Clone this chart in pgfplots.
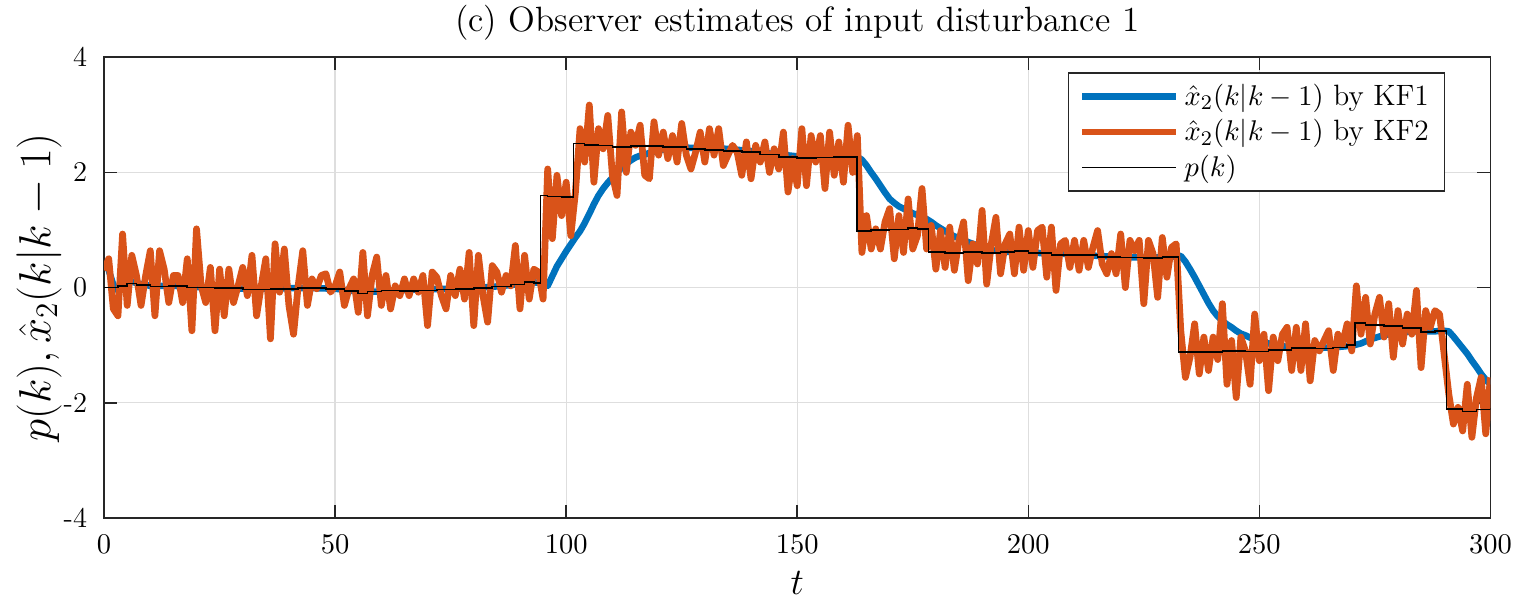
\documentclass[border=0pt]{standalone}
\usepackage{pgfplots}
\pgfplotsset{compat=1.18}

\definecolor{kfblue}{rgb}{0,0.447,0.741}
\definecolor{kforange}{rgb}{0.85,0.325,0.098}
\definecolor{axgray}{rgb}{0.15,0.15,0.15}

\pgfplotsset{
  legend image code/.code={\draw[#1] (0pt,0pt) -- (36pt,0pt);},
  every axis title/.style={at={(axis description cs:0.5,1.057)}, anchor=base,
    font=\fontsize{13.5}{15}\selectfont},
}

\begin{document}
\begin{tikzpicture}
\useasboundingbox (-40pt,-31.5pt) rectangle (543.7pt,199pt);
\begin{axis}[
  at={(0,0)}, anchor=south west, scale only axis,
  width=532.7pt, height=177pt,
  xmin=0, xmax=300, ymin=-4, ymax=4,
  xtick={0,50,...,300},
  ytick={-4,-2,0,2,4}, yticklabels={-4,-2,0,2,4},
  tick align=inside, major tick length=5pt,
  grid=major, grid style={black!13, line width=0.5pt},
  axis line style={axgray, line width=0.6pt},
  tick style={axgray, line width=0.6pt},
  ticklabel style={font=\fontsize{11}{13}\selectfont},
  xticklabel style={yshift=-3pt},
  yticklabel style={xshift=-3pt},
  title={(c) Observer estimates of input disturbance 1},
  xlabel={$t$},
  xlabel style={font=\fontsize{14}{16}\selectfont, at={(axis description cs:0.5,-0.142)}, anchor=center},
  ylabel={$p(k), \hat{x}_2(k|k-1)$},
  ylabel style={font=\fontsize{16.5}{18}\selectfont, at={(axis description cs:-0.0469,0.5)}, anchor=center},
  legend style={at={(0.9675,0.967)}, anchor=north east, draw=axgray, line width=0.6pt,
    font=\fontsize{11.3}{13}\selectfont, cells={anchor=west}, row sep=0pt,
    inner xsep=4pt, inner ysep=2pt},
]

% KF1 estimate (smooth)
\addplot[kfblue, line width=2.5pt, line join=round] coordinates {
(0,0.45)(1,0.30)(2,0.05)(3,-0.05)(4,0.02)(5,0.08)(6,0.10)(8,0.06)(10,0.03)(15,0.03)
(20,0.01)(25,0.00)(30,-0.02)(35,-0.02)(40,-0.01)(45,-0.01)(50,-0.02)(53,-0.05)(56,-0.08)(59,-0.07)
(62,-0.05)(66,-0.04)(70,-0.03)(75,-0.02)(80,-0.01)(85,0.02)(90,0.06)(93,0.09)(95,0.08)
(96,0.03)(97,0.20)(98,0.37)(99,0.50)(100,0.63)(101,0.75)(102,0.87)(103,0.98)(104,1.12)(105,1.28)
(106,1.45)(107,1.60)(108,1.72)(109,1.82)(110,1.91)(111,2.00)(112,2.08)(113,2.15)(114,2.21)(115,2.26)
(116,2.29)(117,2.31)(118,2.34)(120,2.38)(123,2.42)(126,2.43)(130,2.42)(135,2.41)(140,2.37)(145,2.32)
(150,2.28)(155,2.26)(160,2.27)(163,2.27)(164,2.22)(165,2.12)(166,2.00)(167,1.89)(168,1.77)(169,1.65)
(170,1.54)(171,1.47)(172,1.41)(173,1.37)(174,1.33)(175,1.29)(176,1.26)(177,1.23)(178,1.19)(179,1.14)
(180,1.08)(181,1.03)(182,0.98)(183,0.93)(184,0.89)(185,0.86)(186,0.82)(187,0.79)(188,0.76)(190,0.70)
(192,0.65)(195,0.62)(200,0.61)(205,0.59)(210,0.58)(215,0.55)(220,0.53)(225,0.52)(230,0.53)(233,0.55)
(234,0.45)(235,0.32)(236,0.18)(237,0.03)(238,-0.12)(239,-0.27)(240,-0.40)(241,-0.50)(242,-0.58)(243,-0.64)
(244,-0.69)(245,-0.75)(246,-0.80)(247,-0.83)(248,-0.87)(250,-0.92)(252,-0.97)(255,-1.02)(258,-1.04)(262,-1.05)
(266,-1.04)(270,-1.01)(272,-0.97)(274,-0.90)(276,-0.85)(278,-0.81)(280,-0.78)(284,-0.76)(288,-0.76)(290,-0.75)
(291,-0.76)(292,-0.85)(293,-0.95)(294,-1.05)(295,-1.15)(296,-1.27)(297,-1.38)(298,-1.50)(299,-1.60)(300,-1.68)
};
\addlegendentry{$\hat{x}_2(k|k-1)$ by KF1}

% KF2 estimate (fast, noisy)
\addplot[kforange, line width=2.6pt, line join=round] coordinates {
(0,0.30)(1,0.50)(2,-0.37)(3,-0.49)(4,0.93)(5,-0.31)(6,0.56)(7,0.21)(8,-0.31)(9,0.21)
(10,0.64)(11,-0.49)(12,0.64)(13,0.32)(14,-0.26)(15,0.21)(16,0.21)(17,-0.26)(18,0.50)(19,-0.75)
(20,1.02)(21,0.03)(22,-0.26)(23,0.35)(24,-0.75)(25,0.32)(26,-0.49)(27,0.32)(28,-0.26)(29,0.03)
(30,0.35)(31,-0.14)(32,0.56)(33,-0.49)(34,0.03)(35,0.50)(36,-0.89)(37,0.76)(38,-0.08)(39,0.67)
(40,-0.31)(41,-0.81)(42,0.03)(43,0.64)(44,-0.31)(45,0.15)(46,-0.02)(47,0.21)(48,0.24)(49,-0.08)
(50,0.03)(51,0.27)(52,-0.31)(53,-0.02)(54,0.15)(55,-0.43)(56,0.61)(57,-0.49)(58,0.21)(59,0.53)
(60,-0.31)(61,0.21)(62,-0.37)(63,0.03)(64,-0.14)(65,0.15)(66,-0.14)(67,0.15)(68,-0.08)(69,0.21)
(70,-0.66)(71,0.27)(72,0.18)(73,-0.14)(74,-0.37)(75,0.21)(76,-0.14)(77,0.32)(78,-0.20)(79,0.61)
(80,-0.66)(81,0.56)(82,-0.14)(83,-0.60)(84,0.38)(85,0.27)(86,-0.08)(87,0.21)(88,0.03)(89,0.73)
(90,-0.37)(91,0.56)(92,-0.20)(93,0.32)(94,0.27)(95,-0.20)(96,2.06)(97,0.85)(98,1.95)(99,1.25)
(100,1.83)(101,0.90)(102,1.66)(103,2.76)(104,2.18)(105,3.17)(106,1.83)(107,2.76)(108,2.41)(109,2.99)
(110,1.95)(111,1.60)(112,3.05)(113,2.00)(114,2.70)(115,2.47)(116,2.82)(117,1.95)(118,1.89)(119,2.88)
(120,2.30)(121,2.70)(122,2.24)(123,2.64)(124,2.18)(125,2.85)(126,2.30)(127,2.06)(128,2.35)(129,2.70)
(130,2.18)(131,2.76)(132,2.30)(133,2.76)(134,2.12)(135,2.30)(136,2.47)(137,2.35)(138,1.95)(139,2.53)
(140,1.89)(141,2.47)(142,2.18)(143,2.53)(144,2.00)(145,2.41)(146,2.06)(147,2.70)(148,1.66)(149,2.24)
(150,1.77)(151,2.76)(152,1.77)(153,2.64)(154,2.18)(155,2.64)(156,1.72)(157,2.70)(158,1.95)(159,2.53)
(160,1.83)(161,2.82)(162,2.00)(163,2.64)(164,0.61)(165,1.25)(166,0.67)(167,1.02)(168,0.67)(169,1.14)
(170,1.37)(171,0.50)(172,1.25)(173,0.61)(174,1.54)(175,0.67)(176,0.90)(177,1.72)(178,0.67)(179,1.08)
(180,0.32)(181,0.99)(182,0.35)(183,1.05)(184,0.30)(185,0.82)(186,1.14)(187,0.12)(188,0.76)(189,0.41)
(190,1.34)(191,0.06)(192,0.76)(193,1.22)(194,0.24)(195,0.76)(196,0.93)(197,0.24)(198,1.05)(199,0.30)
(200,0.99)(201,0.35)(202,0.99)(203,1.05)(204,0.18)(205,1.05)(206,-0.05)(207,0.76)(208,0.82)(209,0.35)
(210,0.82)(211,0.30)(212,0.82)(213,0.35)(214,0.70)(215,0.99)(216,0.41)(217,0.24)(218,0.59)(219,0.24)
(220,0.93)(221,0.00)(222,0.82)(223,0.64)(224,0.82)(225,-0.28)(226,0.82)(227,0.59)(228,-0.17)(229,0.87)
(230,0.18)(231,0.70)(232,0.76)(233,-0.75)(234,-1.56)(235,-1.21)(236,-0.63)(237,-1.50)(238,-0.86)(239,-1.44)
(240,-0.86)(241,-1.25)(242,-0.28)(243,-1.68)(244,-0.92)(245,-1.91)(246,-0.86)(247,-1.10)(248,-1.68)(249,-0.46)
(250,-1.27)(251,-0.81)(252,-1.79)(253,-0.86)(254,-1.27)(255,-0.81)(256,-0.69)(257,-1.44)(258,-0.69)(259,-1.44)
(260,-0.63)(261,-1.62)(262,-0.92)(263,-1.10)(264,-0.92)(265,-0.75)(266,-1.44)(267,-0.81)(268,-0.98)(269,-0.63)
(270,-1.10)(271,0.03)(272,-0.81)(273,-0.17)(274,-0.98)(275,-0.46)(276,-0.17)(277,-0.86)(278,-0.28)(279,-1.21)
(280,-0.40)(281,-0.98)(282,-0.46)(283,-0.81)(284,-0.05)(285,-1.39)(286,-0.40)(287,-0.69)(288,-0.40)(289,-0.46)
(290,-1.16)(291,-1.85)(292,-2.37)(293,-2.08)(294,-2.49)(295,-1.68)(296,-2.60)(297,-1.91)(298,-1.56)(299,-2.54)
(300,-1.56)
};
\addlegendentry{$\hat{x}_2(k|k-1)$ by KF2}

% true disturbance p(k), piecewise constant
\addplot[black, line width=0.6pt, const plot] coordinates {
(0,0.00)(3,0.03)(5,0.07)(7,0.04)(10,0.02)(14,0.03)(18,0.00)(24,-0.01)(30,-0.03)(36,-0.02)
(42,-0.01)(48,-0.02)(52,-0.06)(55,-0.10)(57,-0.07)(60,-0.05)(64,-0.06)(68,-0.05)(72,-0.03)(76,-0.02)
(80,-0.01)(84,0.02)(88,0.05)(91,0.10)(93,0.08)(94.4,1.60)(96,1.58)(99,1.57)(101.6,2.50)(104,2.48)
(107,2.47)(110,2.44)(114,2.46)(118,2.46)(121,2.44)(126,2.41)(130,2.39)(134,2.37)(138,2.35)(142,2.31)
(146,2.27)(150,2.25)(154,2.26)(158,2.27)(161,2.27)(162.9,0.98)(166,1.00)(170,1.01)(174,1.03)(176,1.02)
(178.4,0.62)(182,0.60)(186,0.62)(190,0.60)(194,0.62)(197,0.64)(200,0.60)(205,0.57)(210,0.57)(215,0.53)
(220,0.52)(225,0.51)(229,0.53)(232.5,-1.12)(237,-1.12)(242,-1.10)(247,-1.11)(252,-1.08)(257,-1.05)(262,-1.06)
(266,-1.04)(269,-1.00)(270.7,-0.62)(273,-0.65)(277,-0.67)(281,-0.70)(285,-0.77)(288,-0.75)(290.5,-2.11)(294,-2.15)
(297,-2.12)(300,-2.10)
};
\addlegendentry{$p(k)$}

\end{axis}
\end{tikzpicture}
\end{document}
